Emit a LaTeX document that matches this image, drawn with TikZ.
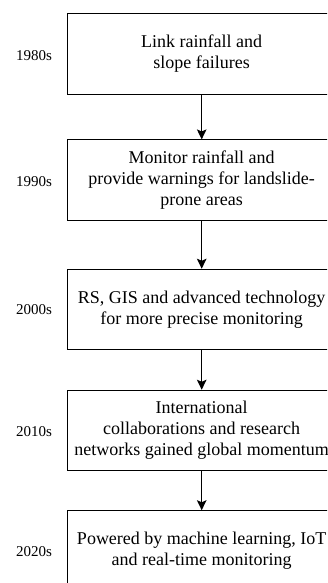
\documentclass[tikz,border=0pt]{standalone}
\usepackage{fontspec}
\setmainfont{Liberation Serif}
\usetikzlibrary{arrows.meta}

\begin{document}
\begin{tikzpicture}[x=1pt, y=-1pt,
  stage/.style={draw=black, line width=1pt, minimum width=269.4pt,
    minimum height=80.5pt, inner sep=0pt, align=center,
    font=\fontsize{18}{21}\selectfont},
  decade/.style={inner sep=0pt, font=\fontsize{15}{18}\selectfont},
  flow/.style={line width=1.3pt, -{Stealth[length=10pt, width=9.5pt, inset=2pt]}}]
  \useasboundingbox (0,0) rectangle (327,583);
  \clip (0,0) rectangle (327,583);

  % timeline stages
  \node[stage] (s1) at (201.7,54)    {Link rainfall and\\slope failures};
  \node[stage] (s2) at (201.7,180.2) {Monitor rainfall and\\provide warnings for landslide-\\prone areas};
  \node[stage] (s3) at (201.7,309.5) {RS, GIS and advanced technology\\for more precise monitoring};
  \node[stage] (s4) at (201.7,430.5) {International\\collaborations and research\\networks gained global momentum};
  \node[stage] (s5) at (201.7,551)   {Powered by machine learning, IoT\\and real-time monitoring};

  % decade labels
  \node[decade] (d1) at (34,56)  {1980s};
  \node[decade] (d2) at (34,182) {1990s};
  \node[decade] (d3) at (34,310) {2000s};
  \node[decade] (d4) at (34,432) {2010s};
  \node[decade] (d5) at (34,552) {2020s};

  % connectors
  \draw[flow] (s1.south) -- (s2.north);
  \draw[flow] (s2.south) -- (s3.north);
  \draw[flow] (s3.south) -- (s4.north);
  \draw[flow] (s4.south) -- (s5.north);
\end{tikzpicture}
\end{document}
